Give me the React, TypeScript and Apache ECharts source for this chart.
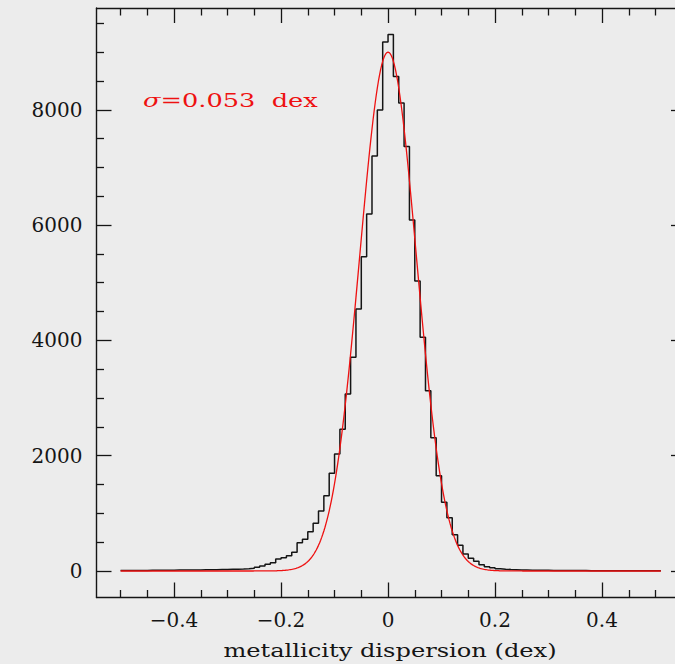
import React, { useEffect, useRef } from "react";
import * as echarts from "echarts";

// Histogram: bins of width 0.01 dex, left edges from -0.50 to 0.50
const BIN_START = -0.5;
const BIN_WIDTH = 0.01;
const BIN_COUNTS = [
  // -0.50 .. -0.41
  8, 8, 9, 10, 10, 11, 12, 12, 13, 14,
  // -0.40 .. -0.31
  15, 16, 17, 18, 19, 20, 21, 22, 24, 26,
  // -0.30 .. -0.21
  28, 30, 33, 37, 47, 64, 87, 116, 144, 208,
  // -0.20 .. -0.11
  231, 266, 324, 491, 550, 682, 827, 1041, 1307, 1695,
  // -0.10 .. -0.01
  2030, 2458, 3071, 3707, 4546, 5453, 6194, 7200, 7998, 9175,
  // 0.00 .. 0.09
  9305, 8577, 8120, 7362, 6090, 5031, 4054, 3125, 2313, 1653,
  // 0.10 .. 0.19
  1192, 925, 630, 445, 295, 220, 170, 110, 75, 55,
  // 0.20 .. 0.29
  38, 30, 25, 22, 18, 16, 14, 13, 12, 11,
  // 0.30 .. 0.39
  10, 9, 9, 8, 8, 7, 7, 6, 6, 6,
  // 0.40 .. 0.50
  5, 5, 5, 4, 4, 4, 4, 3, 3, 3, 3,
];

// Gaussian fit parameters (sigma from the annotation)
const FIT_AMPLITUDE = 9000;
const FIT_MEAN = 0.0;
const FIT_SIGMA = 0.053;
const FIT_RANGE = [-0.5, 0.51];
const FIT_STEP = 0.002;

const X_MAJOR_TICKS = [-0.4, -0.2, 0, 0.2, 0.4];
const X_MINOR_TICKS = [-0.5, -0.45, -0.35, -0.3, -0.25, -0.15, -0.1, -0.05, 0.05, 0.1, 0.15, 0.25, 0.3, 0.35, 0.45, 0.5, 0.55];
const Y_MAJOR_TICKS = [0, 2000, 4000, 6000, 8000];
const Y_MINOR_TICKS = [500, 1000, 1500, 2500, 3000, 3500, 4500, 5000, 5500, 6500, 7000, 7500, 8500, 9000, 9500];

const X_MIN = -0.545;
const X_MAX = 0.557;
const Y_MIN = -460;
const Y_MAX = 9766;

const X_TITLE = "metallicity dispersion (dex)";
const FIT_LABEL_VALUE = "0.053";
const FIT_LABEL_UNIT = "dex";

const FONT = "DejaVu Serif";
const INK = "#151515";

export default function App() {
  const ref = useRef<HTMLDivElement>(null);

  useEffect(() => {
    if (!ref.current) return;
    const chart = echarts.init(ref.current, null, { renderer: "svg" });

    const histData: number[][] = BIN_COUNTS.map((c, i) => [
      +(BIN_START + i * BIN_WIDTH).toFixed(4),
      c,
    ]);
    const lastEdge = +(BIN_START + BIN_COUNTS.length * BIN_WIDTH).toFixed(4);
    histData.push([lastEdge, BIN_COUNTS[BIN_COUNTS.length - 1]]);

    const fitData: number[][] = [];
    const nFit = Math.round((FIT_RANGE[1] - FIT_RANGE[0]) / FIT_STEP);
    for (let i = 0; i <= nFit; i++) {
      const x = FIT_RANGE[0] + i * FIT_STEP;
      const z = (x - FIT_MEAN) / FIT_SIGMA;
      fitData.push([x, FIT_AMPLITUDE * Math.exp(-0.5 * z * z)]);
    }

    const lineStyle = { color: INK, width: 1.4 };
    const tickStyle = { color: INK, width: 1.3 };
    const fmtX = (v: number) =>
      v === 0 ? "0" : (v < 0 ? "\u2212" : "") + Math.abs(v).toFixed(1);

    const xAxisBase = (position: string, ticks: number[], len: number, label: boolean, line: boolean) => ({
      type: "value",
      position,
      min: X_MIN,
      max: X_MAX,
      axisLine: { show: line, onZero: false, lineStyle },
      axisTick: { show: true, inside: true, length: len, customValues: ticks, lineStyle: tickStyle },
      axisLabel: {
        show: label,
        customValues: ticks,
        formatter: fmtX,
        margin: 12,
        fontFamily: FONT,
        fontSize: 20,
        color: INK,
      },
      splitLine: { show: false },
      minorTick: { show: false },
    });
    const yAxisBase = (position: string, ticks: number[], len: number, label: boolean, line: boolean) => ({
      type: "value",
      position,
      min: Y_MIN,
      max: Y_MAX,
      axisLine: { show: line, onZero: false, lineStyle },
      axisTick: { show: true, inside: true, length: len, customValues: ticks, lineStyle: tickStyle },
      axisLabel: {
        show: label,
        customValues: ticks,
        formatter: (v: number) => String(v),
        margin: 14,
        fontFamily: FONT,
        fontSize: 20,
        color: INK,
      },
      splitLine: { show: false },
      minorTick: { show: false },
    });

    chart.setOption({
      animation: false,
      backgroundColor: "#ececec",
      grid: { left: 96.5, right: 14, top: 8, bottom: 66.5, containLabel: false },
      xAxis: [
        xAxisBase("bottom", X_MAJOR_TICKS, 15, true, true),
        xAxisBase("bottom", X_MINOR_TICKS, 7.5, false, false),
        xAxisBase("top", X_MAJOR_TICKS, 15, false, true),
        xAxisBase("top", X_MINOR_TICKS, 7.5, false, false),
      ],
      yAxis: [
        yAxisBase("left", Y_MAJOR_TICKS, 15, true, true),
        yAxisBase("left", Y_MINOR_TICKS, 7.5, false, false),
        yAxisBase("right", Y_MAJOR_TICKS, 15, false, true),
        yAxisBase("right", Y_MINOR_TICKS, 7.5, false, false),
      ],
      series: [
        {
          type: "line",
          name: "histogram",
          xAxisIndex: 0,
          yAxisIndex: 0,
          data: histData,
          step: "end",
          symbol: "none",
          lineStyle: { color: INK, width: 1.5 },
          z: 3,
        },
        {
          type: "line",
          name: "fit",
          xAxisIndex: 0,
          yAxisIndex: 0,
          data: fitData,
          symbol: "none",
          smooth: false,
          lineStyle: { color: "#ee1111", width: 1.3 },
          z: 4,
        },
      ],
      graphic: [
        {
          type: "text",
          x: 390,
          y: 650,
          scaleX: 1.27,
          style: {
            text: X_TITLE,
            fontFamily: FONT,
            fontSize: 19,
            fill: INK,
            textAlign: "center",
            textVerticalAlign: "middle",
          },
        },
        {
          type: "text",
          x: 143,
          y: 100,
          scaleX: 1.35,
          style: {
            text: "{i|\u03c3}=" + FIT_LABEL_VALUE + "  " + FIT_LABEL_UNIT,
            fontFamily: FONT,
            fontSize: 19,
            fill: "#ee1111",
            textAlign: "left",
            textVerticalAlign: "middle",
            rich: {
              i: { fontStyle: "italic", fontFamily: FONT, fontSize: 19, fill: "#ee1111" },
            },
          },
        },
      ],
    });

    return () => chart.dispose();
  }, []);

  return (
    <div
      ref={ref}
      style={{ position: "fixed", left: 0, top: 0, width: 700, height: 664 }}
    />
  );
}
